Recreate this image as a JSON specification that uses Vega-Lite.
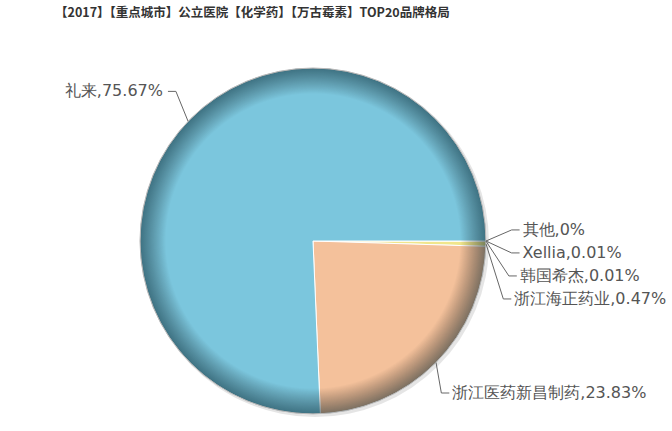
{
  "$schema": "https://vega.github.io/schema/vega-lite/v6.json",
  "width": 672,
  "height": 401,
  "autosize": {"type": "none"},
  "padding": {"top": 30, "left": 0, "right": 0, "bottom": 0},
  "background": "white",
  "title": {
    "text": "【2017】【重点城市】公立医院【化学药】【万古霉素】TOP20品牌格局",
    "anchor": "start",
    "frame": "group",
    "dx": 55,
    "offset": 11,
    "fontSize": 12.5,
    "fontWeight": "bold",
    "font": "Noto Sans CJK SC",
    "color": "#333333"
  },
  "config": {"view": {"stroke": null}},
  "data": {
    "values": [
      {"brand": "其他", "share": 0},
      {"brand": "Xellia", "share": 0.01},
      {"brand": "韩国希杰", "share": 0.01},
      {"brand": "浙江海正药业", "share": 0.47},
      {"brand": "浙江医药新昌制药", "share": 23.83},
      {"brand": "礼来", "share": 75.67}
    ]
  },
  "transform": [
    {"window": [{"op": "row_number", "as": "idx"}, {"op": "sum", "field": "share", "as": "cum"}], "frame": [null, 0]},
    {"joinaggregate": [{"op": "sum", "field": "share", "as": "total"}]},
    {"calculate": "2*PI*(datum.cum - datum.share/2)/datum.total + PI/2", "as": "ang"},
    {"calculate": "sin(datum.ang)", "as": "ex"},
    {"calculate": "cos(datum.ang)", "as": "ey"},
    {"calculate": "datum.share >= 1 ? 1.25*datum.ey : 0.064 - (datum.idx-1)*0.133", "as": "ly"},
    {"calculate": "datum.ex < 0 ? -1 : 1", "as": "side"},
    {"calculate": "datum.side < 0 ? 1.173 : 1.15", "as": "rl"},
    {"calculate": "datum.side*sqrt(datum.rl*datum.rl - datum.ly*datum.ly)", "as": "lx"},
    {"calculate": "datum.lx + datum.side*0.046", "as": "lx2"},
    {"calculate": "datum.brand + ',' + datum.share + '%'", "as": "label"}
  ],
  "layer": [
    {
      "transform": [{"filter": "datum.idx == 1"}],
      "mark": {"type": "arc", "theta": 0, "theta2": 6.2832, "outerRadius": 174, "fill": "#000000", "opacity": 0.1, "xOffset": 2, "yOffset": 2},
      "encoding": {
        "x": {"datum": 0, "type": "quantitative", "scale": {"domain": [-1.8092, 2.0751], "nice": false, "zero": false}, "axis": null},
        "y": {"datum": 0, "type": "quantitative", "scale": {"domain": [-1.0983, 1.2197], "nice": false, "zero": false}, "axis": null}
      }
    },
    {
      "mark": {"type": "arc", "outerRadius": 173, "stroke": "#ffffff", "strokeWidth": 1},
      "encoding": {
        "x": {"datum": 0, "type": "quantitative", "scale": {"domain": [-1.8092, 2.0751], "nice": false, "zero": false}, "axis": null},
        "y": {"datum": 0, "type": "quantitative", "scale": {"domain": [-1.0983, 1.2197], "nice": false, "zero": false}, "axis": null},
        "theta": {"field": "share", "type": "quantitative", "stack": true, "scale": {"range": [1.5708, 7.854]}},
        "order": {"field": "idx", "type": "quantitative"},
        "color": {
          "field": "brand",
          "type": "nominal",
          "scale": {
            "domain": ["其他", "Xellia", "韩国希杰", "浙江海正药业", "浙江医药新昌制药", "礼来"],
            "range": ["#a0a0a0", "#90c080", "#b090c0", "#f0e68c", "#f4c19b", "#7bc6dd"]
          },
          "legend": null
        }
      }
    },
    {
      "transform": [{"filter": "datum.idx == 1"}],
      "mark": {
        "type": "arc", "theta": 0, "theta2": 6.2832, "outerRadius": 173,
        "stroke": "#b8b8b8", "strokeWidth": 1,
        "fill": {
          "gradient": "radial",
          "x1": 0.5, "y1": 0.5, "r1": 0,
          "x2": 0.5, "y2": 0.5, "r2": 0.5,
          "stops": [
            {"offset": 0, "color": "rgba(0,0,0,0)"},
            {"offset": 0.85, "color": "rgba(0,0,0,0)"},
            {"offset": 1, "color": "rgba(0,30,40,0.5)"}
          ]
        }
      },
      "encoding": {
        "x": {"datum": 0, "type": "quantitative", "scale": {"domain": [-1.8092, 2.0751], "nice": false, "zero": false}, "axis": null},
        "y": {"datum": 0, "type": "quantitative", "scale": {"domain": [-1.0983, 1.2197], "nice": false, "zero": false}, "axis": null}
      }
    },
    {
      "mark": {"type": "rule", "color": "#666666", "strokeWidth": 1},
      "encoding": {
        "x": {"field": "ex", "type": "quantitative", "scale": {"domain": [-1.8092, 2.0751], "nice": false, "zero": false}, "axis": null},
        "y": {"field": "ey", "type": "quantitative", "scale": {"domain": [-1.0983, 1.2197], "nice": false, "zero": false}, "axis": null},
        "x2": {"field": "lx"},
        "y2": {"field": "ly"}
      }
    },
    {
      "mark": {"type": "rule", "color": "#666666", "strokeWidth": 1},
      "encoding": {
        "x": {"field": "lx", "type": "quantitative", "scale": {"domain": [-1.8092, 2.0751], "nice": false, "zero": false}, "axis": null},
        "y": {"field": "ly", "type": "quantitative", "scale": {"domain": [-1.0983, 1.2197], "nice": false, "zero": false}, "axis": null},
        "x2": {"field": "lx2"},
        "y2": {"field": "ly"}
      }
    },
    {
      "transform": [{"filter": "datum.side < 0"}],
      "mark": {"type": "text", "align": "right", "baseline": "middle", "dx": -5, "font": "DejaVu Sans", "fontSize": 16, "color": "#555555"},
      "encoding": {
        "x": {"field": "lx2", "type": "quantitative", "scale": {"domain": [-1.8092, 2.0751], "nice": false, "zero": false}, "axis": null},
        "y": {"field": "ly", "type": "quantitative", "scale": {"domain": [-1.0983, 1.2197], "nice": false, "zero": false}, "axis": null},
        "text": {"field": "label"}
      }
    },
    {
      "transform": [{"filter": "datum.side > 0"}],
      "mark": {"type": "text", "align": "left", "baseline": "middle", "dx": 3, "font": "DejaVu Sans", "fontSize": 16, "color": "#555555"},
      "encoding": {
        "x": {"field": "lx2", "type": "quantitative", "scale": {"domain": [-1.8092, 2.0751], "nice": false, "zero": false}, "axis": null},
        "y": {"field": "ly", "type": "quantitative", "scale": {"domain": [-1.0983, 1.2197], "nice": false, "zero": false}, "axis": null},
        "text": {"field": "label"}
      }
    }
  ]
}
